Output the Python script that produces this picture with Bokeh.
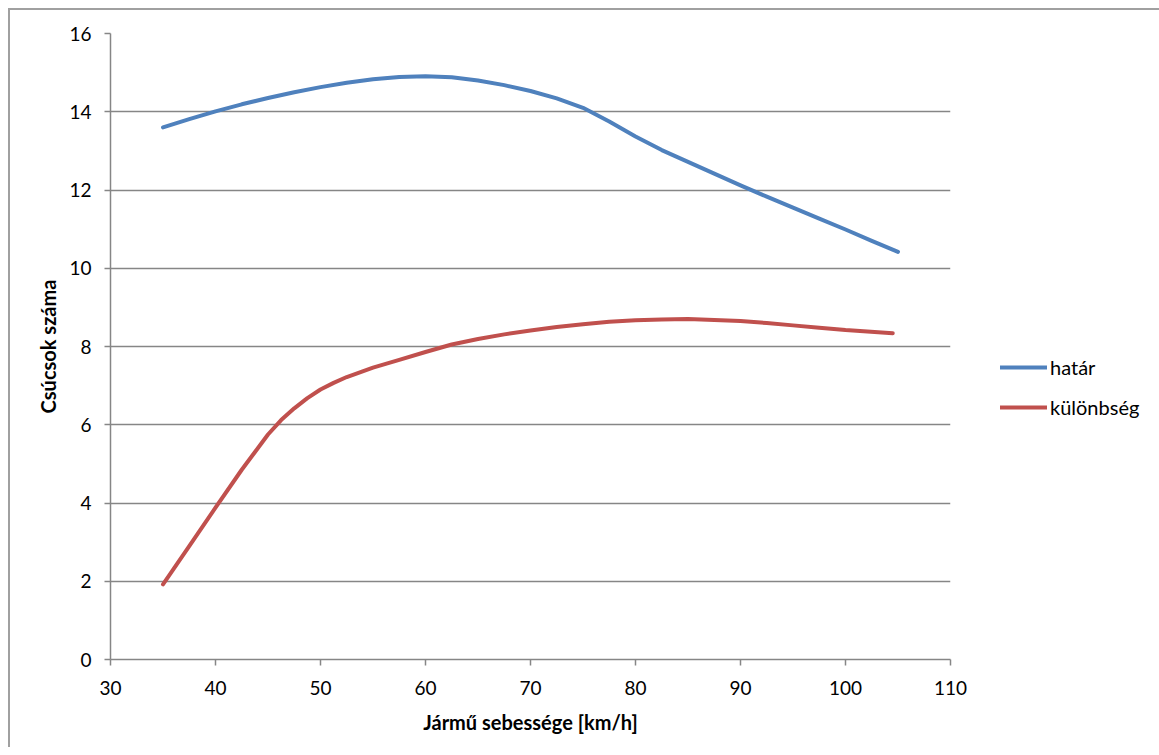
from bokeh.plotting import figure
from bokeh.models import Legend, LegendItem, Range1d, SingleIntervalTicker
from bokeh.embed import file_html
from bokeh.resources import INLINE

# Data
speed_hatar = [35, 37.5, 40, 42.5, 45, 47.5, 50, 52.5, 55, 57.5, 60, 62.5, 65, 67.5, 70, 72.5, 75, 77.5, 80, 82.5, 85, 87.5, 90, 92.5, 95, 97.5, 100, 102.5, 105]
hatar = [13.6, 13.81, 14.01, 14.19, 14.35, 14.5, 14.63, 14.74, 14.83, 14.89, 14.91, 14.88, 14.8, 14.68, 14.53, 14.34, 14.1, 13.75, 13.37, 13.02, 12.72, 12.42, 12.12, 11.83, 11.55, 11.27, 10.99, 10.7, 10.42]

speed_kulonbseg = [35, 37.5, 40, 42.5, 45, 46.25, 47.5, 48.75, 50, 51.25, 52.5, 55, 57.5, 60, 62.5, 65, 67.5, 70, 72.5, 75, 77.5, 80, 82.5, 85, 87.5, 90, 92.5, 95, 97.5, 100, 104.5]
kulonbseg = [1.92, 2.9, 3.88, 4.85, 5.75, 6.12, 6.42, 6.68, 6.9, 7.07, 7.22, 7.46, 7.66, 7.86, 8.05, 8.19, 8.31, 8.41, 8.5, 8.57, 8.63, 8.67, 8.69, 8.7, 8.68, 8.65, 8.6, 8.54, 8.48, 8.42, 8.34]

x_ticks = [30, 40, 50, 60, 70, 80, 90, 100, 110]
y_ticks = [0, 2, 4, 6, 8, 10, 12, 14, 16]

FONT = "Lato"
GRID = "#868686"
BORDER = "#a0a0a0"

p = figure(output_backend="svg", toolbar_location=None,
           x_range=Range1d(30, 110), y_range=Range1d(0, 16),
           frame_width=840, frame_height=626,
           min_border_left=110, min_border_top=33,
           min_border_bottom=88, min_border_right=201)
p.outline_line_color = None
p.background_fill_color = "white"
p.border_fill_alpha = 0
p.styles = {
    "background": (f"linear-gradient({BORDER},{BORDER}) 8px 8px / 2px 100% no-repeat, "
                   f"linear-gradient({BORDER},{BORDER}) 8px 8px / 100% 2px no-repeat, white"),
}

p.xgrid.grid_line_color = None
p.ygrid.grid_line_color = GRID
p.ygrid.grid_line_width = 1.5
p.ygrid.ticker = SingleIntervalTicker(interval=2)

p.xaxis.ticker = x_ticks
p.yaxis.ticker = y_ticks
for ax in (p.xaxis[0], p.yaxis[0]):
    ax.axis_line_color = GRID
    ax.axis_line_width = 1.5
    ax.major_tick_line_color = GRID
    ax.major_tick_line_width = 1.5
    ax.major_tick_in = 0
    ax.major_tick_out = 6
    ax.minor_tick_line_color = None
    ax.major_label_text_font = FONT
    ax.major_label_text_font_size = "19px"
    ax.major_label_text_color = "black"
    ax.axis_label_text_font = FONT
    ax.axis_label_text_font_size = "20px"
    ax.axis_label_text_font_style = "bold"
    ax.axis_label_text_color = "black"

p.xaxis.axis_label = "Jármű sebessége [km/h]"
p.yaxis.axis_label = "Csúcsok száma"
p.yaxis.major_label_standoff = 13
p.yaxis.axis_label_standoff = 6
p.xaxis.major_label_standoff = 15
p.xaxis.axis_label_standoff = 12

r1 = p.line(speed_hatar, hatar, line_color="#4F81BD", line_width=4, line_cap="round", line_join="round")
r2 = p.line(speed_kulonbseg, kulonbseg, line_color="#C0504D", line_width=4, line_cap="round", line_join="round")

legend = Legend(items=[LegendItem(label="határ", renderers=[r1]),
                       LegendItem(label="különbség", renderers=[r2])],
                location=(50, 240), orientation="vertical")
legend.border_line_color = None
legend.background_fill_alpha = 0
legend.padding = 0
legend.margin = 0
legend.glyph_width = 47
legend.glyph_height = 20
legend.label_height = 20
legend.label_standoff = 3
legend.spacing = 16
legend.label_text_font = FONT
legend.label_text_font_size = "20px"
legend.label_text_color = "black"
p.add_layout(legend, "right")

open("out.html", "w").write(file_html(p, INLINE))
